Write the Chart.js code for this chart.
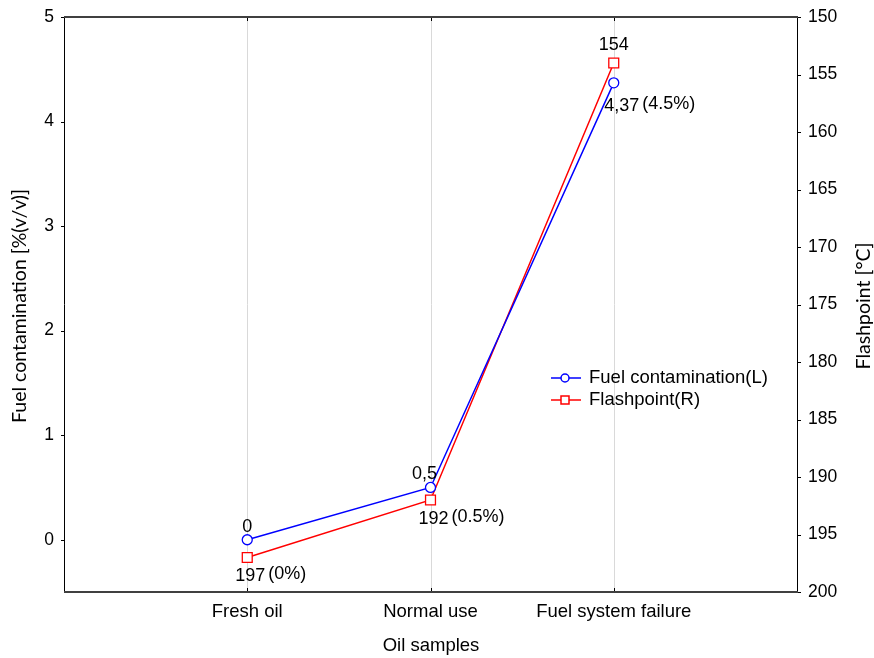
<!DOCTYPE html>
<html>
<head>
<meta charset="utf-8">
<script src="https://cdn.jsdelivr.net/npm/chart.js@4"></script>
<style>
  html, body { margin: 0; padding: 0; background: #fff; }
  canvas { display: block; }
</style>
</head>
<body>
<canvas id="fuelChart" width="874" height="658"></canvas>
<script>
// categories (empty slots at the ends keep the points away from the frame)
const categories = ["", "Fresh oil", "Normal use", "Fuel system failure", ""];
const fuelContamination = [null, 0, 0.5, 4.37, null];
const flashpoint = [null, 197, 192, 154, null];
const fuelLabels = ["", "0", "0,5", "4,37", ""];
const flashLabels = ["", "197", "192", "154", ""];
const shareLabels = ["", "(0%)", "(0.5%)", "(4.5%)", ""];
const leftTicks = [0, 1, 2, 3, 4, 5];

const FONT = '"Liberation Sans", Arial, sans-serif';
const TITLE_FONT = 'Lato, "Open Sans", sans-serif';
const BLUE = "#0000ff";
const RED = "#ff0000";

// frame, small tick marks, titles, legend and value labels
const decorations = {
    id: "decorations",
    beforeDatasetsDraw(chart) {
        const { ctx, chartArea: a, scales } = chart;
        ctx.save();
        // vertical grid
        ctx.strokeStyle = "#d9d9d9";
        ctx.lineWidth = 1;
        for (let i = 1; i < categories.length - 1; i++) {
            const x = Math.round(scales.x.getPixelForValue(i)) + 0.5;
            ctx.beginPath();
            ctx.moveTo(x, a.top);
            ctx.lineTo(x, a.bottom);
            ctx.stroke();
        }
        ctx.restore();
    },
    afterDatasetsDraw(chart) {
        const { ctx, chartArea: a, scales } = chart;
        ctx.save();

        // left / right axis lines
        ctx.strokeStyle = "#000";
        ctx.lineWidth = 1;
        ctx.beginPath();
        ctx.moveTo(a.left + 0.5, a.top);
        ctx.lineTo(a.left + 0.5, a.bottom);
        ctx.moveTo(a.right + 0.5, a.top);
        ctx.lineTo(a.right + 0.5, a.bottom);
        // outward ticks
        leftTicks.forEach(v => {
            const y = Math.round(scales.y.getPixelForValue(v)) + 0.5;
            ctx.moveTo(a.left - 3, y);
            ctx.lineTo(a.left, y);
        });
        scales.y2.ticks.forEach(t => {
            const y = Math.round(scales.y2.getPixelForValue(t.value)) + 0.5;
            ctx.moveTo(a.right, y);
            ctx.lineTo(a.right + 4, y);
        });
        for (let i = 1; i < categories.length - 1; i++) {
            const x = Math.round(scales.x.getPixelForValue(i)) + 0.5;
            ctx.moveTo(x, a.top);
            ctx.lineTo(x, a.top + 4);
            ctx.moveTo(x, a.bottom - 4);
            ctx.lineTo(x, a.bottom);
        }
        ctx.stroke();

        // top / bottom lines
        ctx.strokeStyle = "#404040";
        ctx.lineWidth = 2;
        ctx.beginPath();
        ctx.moveTo(a.left, a.top);
        ctx.lineTo(a.right + 1, a.top);
        ctx.moveTo(a.left, a.bottom);
        ctx.lineTo(a.right + 1, a.bottom);
        ctx.stroke();

        // axis titles
        ctx.fillStyle = "#000";
        ctx.font = "18.5px " + FONT;
        ctx.textAlign = "center";
        ctx.textBaseline = "middle";
        ctx.fillText("Oil samples", 431, 646);
        ctx.font = "19.5px " + TITLE_FONT;
        ctx.save();
        ctx.translate(20, 306);
        ctx.rotate(-Math.PI / 2);
        ctx.fillText("Fuel contamination [%(v/v)]", 0, 0);
        ctx.restore();
        ctx.save();
        ctx.translate(864, 306);
        ctx.rotate(-Math.PI / 2);
        ctx.fillText("Flashpoint [°C]", 0, 0);
        ctx.restore();

        // value labels
        ctx.font = "18px " + FONT;
        const blue = chart.getDatasetMeta(0).data;
        const red = chart.getDatasetMeta(1).data;
        for (let i = 1; i < categories.length - 1; i++) {
            const pb = blue[i], pr = red[i];
            const blueLower = pb.y > pr.y;
            const up = blueLower ? pr : pb;
            const down = blueLower ? pb : pr;
            const upText = blueLower ? flashLabels[i] : fuelLabels[i];
            const downText = blueLower ? fuelLabels[i] : flashLabels[i];
            ctx.textAlign = "center";
            ctx.fillText(upText, up.x - (i === 2 ? 6 : 0), up.y - (blueLower ? 18 : 13));
            const w = ctx.measureText(downText).width;
            const cx = down.x + 3 + (blueLower ? 5 : 0);
            const dy = blueLower ? 23 : 19;
            ctx.fillText(downText, cx, down.y + dy);
            ctx.textAlign = "left";
            ctx.fillText(shareLabels[i], cx + w / 2 + 3, down.y + dy - 2);
        }

        // legend
        const items = [
            { text: "Fuel contamination(L)", color: BLUE, y: 378, circle: true },
            { text: "Flashpoint(R)", color: RED, y: 400, circle: false }
        ];
        ctx.font = "18.5px " + FONT;
        items.forEach(it => {
            ctx.strokeStyle = it.color;
            ctx.lineWidth = 1.5;
            ctx.beginPath();
            ctx.moveTo(551, it.y);
            ctx.lineTo(581, it.y);
            ctx.stroke();
            ctx.fillStyle = "#fff";
            ctx.beginPath();
            if (it.circle) ctx.arc(565, it.y, 4, 0, Math.PI * 2);
            else ctx.rect(561, it.y - 4, 8, 8);
            ctx.fill();
            ctx.stroke();
            ctx.fillStyle = "#000";
            ctx.textAlign = "left";
            ctx.fillText(it.text, 589, it.y);
        });
        ctx.restore();
    }
};

new Chart(document.getElementById("fuelChart"), {
    type: "line",
    data: {
        labels: categories,
        datasets: [
            {
                label: "Fuel contamination(L)",
                data: fuelContamination,
                yAxisID: "y",
                borderColor: BLUE,
                backgroundColor: "#fff",
                borderWidth: 1.5,
                pointStyle: "circle",
                pointRadius: 5,
                pointBorderWidth: 1.3,
                tension: 0,
                spanGaps: false
            },
            {
                label: "Flashpoint(R)",
                data: flashpoint,
                yAxisID: "y2",
                borderColor: RED,
                backgroundColor: "#fff",
                borderWidth: 1.5,
                pointStyle: "rect",
                pointRadius: 7,
                pointBorderWidth: 1.3,
                tension: 0,
                spanGaps: false
            }
        ]
    },
    options: {
        responsive: false,
        animation: false,
        devicePixelRatio: 1,
        layout: { padding: { top: 17, left: 0, right: 0, bottom: 0 } },
        plugins: {
            legend: { display: false },
            tooltip: { enabled: false }
        },
        scales: {
            x: {
                type: "category",
                offset: false,
                grid: { display: false },
                border: { display: false },
                ticks: {
                    color: "#000",
                    font: { family: FONT, size: 18.5 },
                    padding: 1,
                    maxRotation: 0,
                    autoSkip: false
                },
                afterFit(scale) { scale.height = 66; }
            },
            y: {
                position: "left",
                min: -0.5,
                max: 5,
                grid: { display: false },
                border: { display: false },
                ticks: {
                    color: "#000",
                    font: { family: FONT, size: 17.5 },
                    padding: 2
                },
                afterBuildTicks(scale) {
                    scale.ticks = leftTicks.map(v => ({ value: v }));
                },
                afterFit(scale) { scale.width = 64; }
            },
            y2: {
                position: "right",
                min: 150,
                max: 200,
                reverse: true,
                grid: { display: false },
                border: { display: false },
                ticks: {
                    stepSize: 5,
                    color: "#000",
                    font: { family: FONT, size: 17.5 },
                    padding: 3
                },
                afterFit(scale) { scale.width = 77; }
            }
        }
    },
    plugins: [decorations]
});
</script>
</body>
</html>
